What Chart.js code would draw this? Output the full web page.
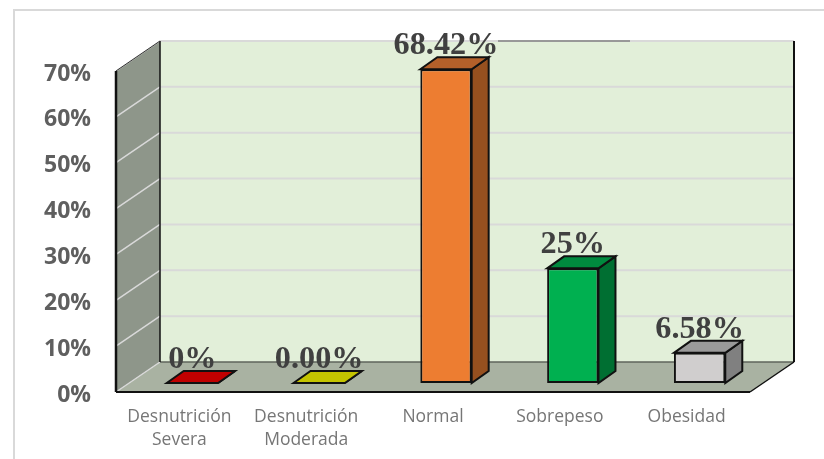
<!DOCTYPE html>
<html lang="es">
<head>
    <meta charset="UTF-8">
    <title>Estado nutricional</title>
    <script src="https://cdn.jsdelivr.net/npm/chart.js"></script>
    <style>
        html, body {
            margin: 0;
            background: #fff;
            overflow: hidden;
        }
        .frame {
            position: absolute;
            left: 13px;
            top: 9px;
            right: 0;
            bottom: 0;
            border-left: 2px solid #d9d9d9;
            border-top: 2px solid #d9d9d9;
        }
        canvas {
            position: absolute;
            left: 0;
            top: 0;
        }
    </style>
</head>
<body>
    <div class="frame"></div>
    <canvas id="nutritionChart" width="824" height="459"></canvas>

    <script>
        const categories = [['Desnutrición', 'Severa'], ['Desnutrición', 'Moderada'], 'Normal', 'Sobrepeso', 'Obesidad'];
        const percentages = [0, 0, 68.42, 25, 6.58];
        const valueLabels = ['0%', '0.00%', '68.42%', '25%', '6.58%'];

        const frontColors = ['#c00000', '#c4c400', '#ed7d31', '#00b050', '#d0cece'];
        const topColors = ['#c00000', '#c4c400', '#b4602a', '#008a3e', '#9a9a9a'];
        const sideColors = ['#900000', '#939300', '#96501f', '#006f32', '#808080'];

        // box depth of the whole plot, and of each bar inside it
        const DEPTH_X = 44, DEPTH_Y = -30;
        const BAR_DX = 17, BAR_DY = -12;
        const INSET_X = 13, INSET_Y = -9;

        function poly(ctx, pts, fill, stroke, lineWidth) {
            ctx.beginPath();
            pts.forEach((p, i) => i ? ctx.lineTo(p[0], p[1]) : ctx.moveTo(p[0], p[1]));
            ctx.closePath();
            if (fill) {
                ctx.fillStyle = fill;
                ctx.fill();
            }
            if (stroke) {
                ctx.strokeStyle = stroke;
                ctx.lineWidth = lineWidth;
                ctx.stroke();
            }
        }

        function segment(ctx, x1, y1, x2, y2, color, lineWidth) {
            ctx.beginPath();
            ctx.moveTo(x1, y1);
            ctx.lineTo(x2, y2);
            ctx.strokeStyle = color;
            ctx.lineWidth = lineWidth;
            ctx.stroke();
        }

        // back wall, side wall and floor with their grid lines
        const box3d = {
            id: 'box3d',
            beforeDatasetsDraw(chart) {
                const { ctx, chartArea: a, scales: { y } } = chart;
                const dx = DEPTH_X, dy = DEPTH_Y;
                ctx.save();
                poly(ctx, [[a.left + dx, a.top + dy], [a.right + dx, a.top + dy], [a.right + dx, a.bottom + dy], [a.left + dx, a.bottom + dy]], '#e2efd9');
                poly(ctx, [[a.left, a.top], [a.left + dx, a.top + dy], [a.left + dx, a.bottom + dy], [a.left, a.bottom]], '#8e968a');
                poly(ctx, [[a.left, a.bottom], [a.left + dx, a.bottom + dy], [a.right + dx, a.bottom + dy], [a.right, a.bottom]], '#a9b2a2');

                y.ticks.forEach(t => {
                    const py = y.getPixelForValue(t.value);
                    segment(ctx, a.left, py, a.left + dx, py + dy, '#d9d9d9', 1.5);
                    if (t.value > 0) {
                        segment(ctx, a.left + dx, py + dy, a.right + dx, py + dy, '#d9d9d9', 2);
                    }
                });

                segment(ctx, 498, a.top + dy, 630, a.top + dy, '#595959', 1);
                segment(ctx, a.left + dx, a.bottom + dy, a.right + dx, a.bottom + dy, '#5f655b', 1.5);
                segment(ctx, a.left + dx, a.top + dy, a.left + dx, a.bottom + dy, '#111', 1.5);
                segment(ctx, a.right + dx, a.top + dy, a.right + dx, a.bottom + dy, '#111', 2);
                segment(ctx, a.left, a.top, a.left + dx, a.top + dy, '#333', 1);
                segment(ctx, a.left, a.top, a.left, a.bottom, '#111', 2.5);
                segment(ctx, a.left, a.bottom, a.right, a.bottom, '#111', 2);
                segment(ctx, a.right, a.bottom, a.right + dx, a.bottom + dy, '#111', 1.5);
                ctx.restore();
            },
            beforeDatasetDraw(chart, args) {
                const { ctx } = chart;
                ctx.save();
                ctx.translate(INSET_X, INSET_Y);
                chart.getDatasetMeta(args.index).data.forEach((bar, i) => {
                    const half = bar.width / 2;
                    const l = bar.x - half, r = bar.x + half;
                    poly(ctx, [[r, bar.y], [r + BAR_DX, bar.y + BAR_DY], [r + BAR_DX, bar.base + BAR_DY], [r, bar.base]], sideColors[i], '#111', 2);
                    poly(ctx, [[l, bar.y], [l + BAR_DX, bar.y + BAR_DY], [r + BAR_DX, bar.y + BAR_DY], [r, bar.y]], topColors[i], '#111', 2);
                });
            },
            afterDatasetDraw(chart) {
                chart.ctx.restore();
            },
            afterDatasetsDraw(chart) {
                const { ctx } = chart;
                chart.getDatasetMeta(0).data.forEach((bar, i) => {
                    ctx.save();
                    ctx.font = 'bold 31px "Liberation Serif"';
                    ctx.fillStyle = '#404040';
                    ctx.textAlign = 'center';
                    ctx.textBaseline = 'alphabetic';
                    // value labels are a little wider than the plain face
                    ctx.translate(bar.x + INSET_X, bar.y + INSET_Y - 15);
                    ctx.scale(1.04, 1);
                    ctx.fillText(valueLabels[i], 0, 0);
                    ctx.restore();
                });
            }
        };

        new Chart(document.getElementById('nutritionChart').getContext('2d'), {
            type: 'bar',
            data: {
                labels: categories,
                datasets: [{
                    data: percentages,
                    backgroundColor: frontColors,
                    borderColor: '#111',
                    borderWidth: 2,
                    borderSkipped: false,
                    barPercentage: 0.405,
                    categoryPercentage: 1,
                    clip: false
                }]
            },
            options: {
                responsive: false,
                animation: false,
                layout: { padding: { top: 71, right: 74, left: 0, bottom: 0 } },
                plugins: {
                    legend: { display: false },
                    title: { display: false },
                    tooltip: { enabled: false }
                },
                scales: {
                    x: {
                        afterFit: s => { s.height = 67; },
                        grid: { display: false },
                        border: { display: false },
                        ticks: {
                            color: '#767676',
                            font: { family: '"Open Sans"', size: 17.5, lineHeight: 1.3 },
                            padding: 6,
                            maxRotation: 0,
                            autoSkip: false
                        }
                    },
                    y: {
                        min: 0,
                        max: 70,
                        afterFit: s => { s.width = 116; },
                        grid: { display: false },
                        border: { display: false },
                        ticks: {
                            stepSize: 10,
                            color: '#5f5f5f',
                            font: { family: '"Open Sans"', size: 23, weight: 'bold' },
                            padding: 17,
                            labelOffset: 3,
                            callback: v => v + '%'
                        }
                    }
                }
            },
            plugins: [box3d]
        });
    </script>
</body>
</html>
